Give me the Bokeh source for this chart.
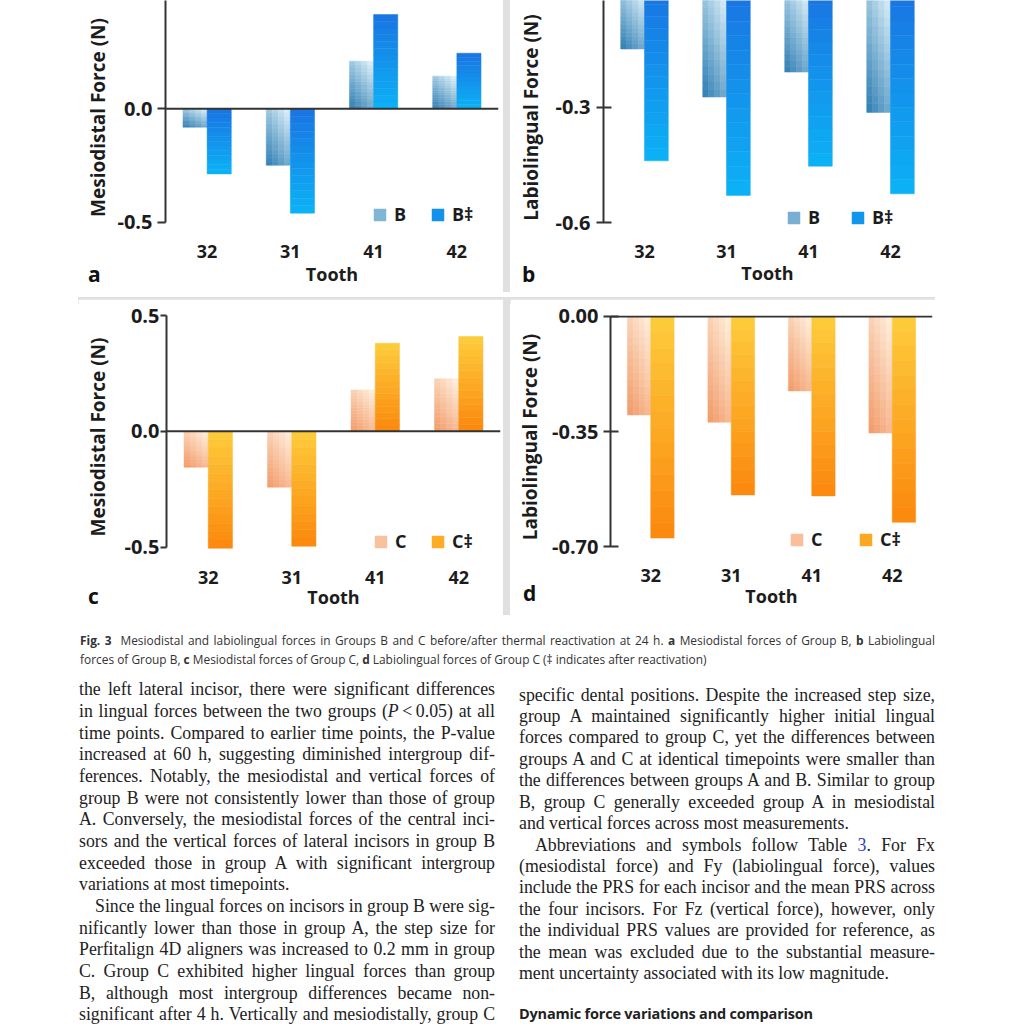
from bokeh.plotting import figure
from bokeh.models import (FactorRange, Range1d, FixedTicker, NumeralTickFormatter, Span,
                          Legend, LegendItem, Div, Spacer, ColumnDataSource)
from bokeh.layouts import row, column
from bokeh.transform import dodge
from bokeh.embed import file_html
from bokeh.resources import INLINE

# ---------------- data ----------------
teeth = ["32", "31", "41", "42"]
mesiodistal_B = [-0.081, -0.249, 0.210, 0.144]
mesiodistal_B_after = [-0.287, -0.460, 0.416, 0.245]
labiolingual_B = [-0.148, -0.273, -0.208, -0.313]
labiolingual_B_after = [-0.439, -0.529, -0.453, -0.525]
mesiodistal_C = [-0.155, -0.241, 0.179, 0.227]
mesiodistal_C_after = [-0.505, -0.496, 0.380, 0.409]
labiolingual_C = [-0.299, -0.321, -0.226, -0.354]
labiolingual_C_after = [-0.673, -0.542, -0.545, -0.625]

ticks_md = [-0.5, 0.0, 0.5]
ticks_ll_B = [-0.6, -0.3, 0.0]
ticks_ll_C = [-0.70, -0.35, 0.0]
panel_letters = ["a", "b", "c", "d"]

caption_lines = [
    '<b>Fig. 3</b>&nbsp; Mesiodistal and labiolingual forces in Groups B and C before/after thermal reactivation at 24 h. '
    '<b>a</b> Mesiodistal forces of Group B, <b>b</b> Labiolingual',
    'forces of Group B, <b>c</b> Mesiodistal forces of Group C, <b>d</b> Labiolingual forces of Group C (\u2021 indicates after reactivation)',
]
left_lines = [
    ("the left lateral incisor, there were significant differences", 1, 0),
    ("in lingual forces between the two groups (<i>P</i>&thinsp;&lt;&thinsp;0.05) at all", 1, 0),
    ("time points. Compared to earlier time points, the P-value", 1, 0),
    ("increased at 60 h, suggesting diminished intergroup dif-", 1, 0),
    ("ferences. Notably, the mesiodistal and vertical forces of", 1, 0),
    ("group B were not consistently lower than those of group", 1, 0),
    ("A. Conversely, the mesiodistal forces of the central inci-", 1, 0),
    ("sors and the vertical forces of lateral incisors in group B", 1, 0),
    ("exceeded those in group A with significant intergroup", 1, 0),
    ("variations at most timepoints.", 0, 0),
    ("Since the lingual forces on incisors in group B were sig-", 1, 16),
    ("nificantly lower than those in group A, the step size for", 1, 0),
    ("Perfitalign 4D aligners was increased to 0.2 mm in group", 1, 0),
    ("C. Group C exhibited higher lingual forces than group", 1, 0),
    ("B, although most intergroup differences became non-", 1, 0),
    ("significant after 4 h. Vertically and mesiodistally, group C", 1, 0),
]
right_lines = [
    ("specific dental positions. Despite the increased step size,", 1, 0),
    ("group A maintained significantly higher initial lingual", 1, 0),
    ("forces compared to group C, yet the differences between", 1, 0),
    ("groups A and C at identical timepoints were smaller than", 1, 0),
    ("the differences between groups A and B. Similar to group", 1, 0),
    ("B, group C generally exceeded group A in mesiodistal", 1, 0),
    ("and vertical forces across most measurements.", 0, 0),
    ('Abbreviations and symbols follow Table <span style="color:#2a3fc9">3</span>. For Fx', 1, 16),
    ("(mesiodistal force) and Fy (labiolingual force), values", 1, 0),
    ("include the PRS for each incisor and the mean PRS across", 1, 0),
    ("the four incisors. For Fz (vertical force), however, only", 1, 0),
    ("the individual PRS values are provided for reference, as", 1, 0),
    ("the mean was excluded due to the substantial measure-", 1, 0),
    ("ment uncertainty associated with its low magnitude.", 0, 0),
]
heading = "Dynamic force variations and comparison"

FONT = "Open Sans"
INK = "#1c1c1c"


def hex2rgb(h):
    h = h.lstrip("#")
    return tuple(int(h[i:i + 2], 16) for i in (0, 2, 4))


def lerp(c0, c1, t):
    a, b = hex2rgb(c0), hex2rgb(c1)
    t = max(0.0, min(1.0, t))
    return "#%02x%02x%02x" % tuple(int(round(a[i] + (b[i] - a[i]) * t)) for i in range(3))


def gradient_bars(p, values, off0, width, c_top, c_bot, n_rows=14, n_cols=1, diag=0.0):
    rends = []
    cw = width / n_cols
    for j in range(n_cols):
        tx = (j + 0.5) / n_cols
        xs, bots, tops, cols = [], [], [], []
        for tooth, v in zip(teeth, values):
            for k in range(n_rows):
                b = v * k / n_rows
                tp = v * (k + 1) / n_rows
                ty = 1 - (k + 0.5) / n_rows if v > 0 else (k + 0.5) / n_rows
                t = (1 - diag) * ty + diag * (1 - tx)
                xs.append(tooth)
                bots.append(b)
                tops.append(tp)
                cols.append(lerp(c_top, c_bot, t))
        src = ColumnDataSource(dict(tooth=xs, bottom=bots, top=tops, color=cols))
        r = p.vbar(x=dodge("tooth", off0 + cw * (j + 0.5), range=p.x_range), width=cw,
                   bottom="bottom", top="top", source=src,
                   fill_color="color", line_color="color", line_width=0.5)
        rends.append(r)
    return rends


def make_panel(fw, fh, bl, br, bt, bb, y0, y1, ticks, fmt, ylabel, tick_in, tick_out,
               tick_sd, ylab_sd, x_sd, xlab_sd, bounds):
    p = figure(width=fw, height=fh, x_range=FactorRange(factors=teeth),
               y_range=Range1d(y0, y1), output_backend="svg", toolbar_location=None,
               min_border_left=bl, min_border_right=br, min_border_top=bt, min_border_bottom=bb)
    p.outline_line_color = None
    p.xgrid.grid_line_color = None
    p.ygrid.grid_line_color = None
    xa = p.xaxis[0]
    xa.axis_line_color = None
    xa.major_tick_line_color = None
    xa.minor_tick_line_color = None
    xa.major_label_standoff = x_sd
    xa.major_label_text_font = FONT
    xa.major_label_text_font_style = "bold"
    xa.major_label_text_font_size = "18px"
    xa.major_label_text_color = INK
    xa.axis_label = "Tooth"
    xa.axis_label_standoff = xlab_sd
    xa.axis_label_text_font = FONT
    xa.axis_label_text_font_style = "bold"
    xa.axis_label_text_font_size = "18px"
    xa.axis_label_text_color = INK
    ya = p.yaxis[0]
    ya.ticker = FixedTicker(ticks=ticks)
    ya.formatter = NumeralTickFormatter(format=fmt)
    ya.bounds = bounds
    ya.axis_line_color = "#333333"
    ya.axis_line_width = 2
    ya.major_tick_line_color = "#333333"
    ya.major_tick_line_width = 2
    ya.major_tick_in = tick_in
    ya.major_tick_out = tick_out
    ya.minor_tick_line_color = None
    ya.major_label_standoff = tick_sd
    ya.major_label_text_font = FONT
    ya.major_label_text_font_style = "bold"
    ya.major_label_text_font_size = "20px"
    ya.major_label_text_color = INK
    ya.axis_label = ylabel
    ya.axis_label_standoff = ylab_sd
    ya.axis_label_text_font = FONT
    ya.axis_label_text_font_style = "bold"
    ya.axis_label_text_font_size = "19px"
    ya.axis_label_text_color = INK
    return p


def finish(p, before, after, names, colors, legend_xy, spacing, zero_line):
    bw = 0.29
    r1 = gradient_bars(p, before, -bw, bw, colors[0], colors[1], n_cols=4, diag=0.4)
    r2 = gradient_bars(p, after, 0.0, bw, colors[2], colors[3], n_cols=1)
    if zero_line:
        p.add_layout(Span(location=0, dimension="width", line_color="#333333", line_width=2))
    leg = Legend(items=[LegendItem(label=names[0], renderers=[r1[1]], index=2 * 14 + 7),
                        LegendItem(label=names[1], renderers=[r2[0]], index=2 * 14 + 7)],
                 location=legend_xy, orientation="horizontal", glyph_width=15, glyph_height=15,
                 label_standoff=7, spacing=spacing, padding=0, margin=0,
                 border_line_color=None, background_fill_alpha=0,
                 label_text_font=FONT, label_text_font_style="bold", label_text_font_size="18px",
                 label_text_color=INK, label_width=20, label_height=15)
    p.add_layout(leg)


blue = ("#e3f5fc", "#2a7bb2", "#1a74e2", "#0cb2f6")
orange = ("#fff2e2", "#f29864", "#fdcc3c", "#fb880c")

# panel a  (frame: window x 165-498, y 0-234; 226.8 px per N)
ya_end = 108.3 / 226.8
pa = make_panel(425, 292, 87, 5, 0, 58, ya_end - 234 / 226.8, ya_end, ticks_md, "0.0",
                "Mesiodistal Force (N)", 0, 8, 5, 3, 4, 1, (-0.5, 1.0))
finish(pa, mesiodistal_B, mesiodistal_B_after, ("B", "B\u2021"), blue, (207, 8), 16, True)

# panel b  (frame: window x 603-931, y 0-237; 389 px per N)
yb_end = -0.3 + 108.3 / 389.0
pb = make_panel(425, 292, 93, 4, 0, 55, yb_end - 237 / 389.0, yb_end, ticks_ll_B, "0.0",
                "Labiolingual Force (N)", 8, 7, 6, 8, 4, 0, (-0.6, 1.0))
finish(pb, labiolingual_B, labiolingual_B_after, ("B", "B\u2021"), blue, (183, 5), 22, False)

# panel c  (frame: window x 166-500, y 315-558; 231.7 px per N)
pc = make_panel(425, 316, 88, 3, 16, 57, 0.5 - 243 / 231.7, 0.5, ticks_md, "0.0",
                "Mesiodistal Force (N)", 0, 6, 1, 10, 6, -2, (-0.5, 0.5))
finish(pc, mesiodistal_C, mesiodistal_C_after, ("C", "C\u2021"), orange, (207, 5), 15, True)

# panel d  (frame: window x 610-932, y 315-560; 332 px per N)
pd_ = make_panel(425, 316, 100, 3, 16, 55, 0.003 - 245 / 332.0, 0.003, ticks_ll_C, "0.00",
                 "Labiolingual Force (N)", 8, 7, 5, 6, 4, -1, (-0.7, 0.0))
finish(pd_, labiolingual_C, labiolingual_C_after, ("C", "C\u2021"), orange, (179, 7), 27, True)

GRAY = "#e0e0e0"
LETTER = ("position:absolute;font-family:'Open Sans';font-weight:700;font-size:21px;"
          "line-height:21px;color:#111;")

hband_html = ('<div style="position:relative;width:857px;height:7px;background:%s;">'
              '<div style="%sleft:10px;top:-33px;">%s</div>'
              '<div style="%sleft:444px;top:-32.6px;">%s</div></div>'
              % (GRAY, LETTER, panel_letters[0], LETTER, panel_letters[1]))

top_row = row(Spacer(width=78, height=292), pa,
              Spacer(width=7, height=292, styles={"background-color": GRAY}), pb, spacing=0)
hband = row(Spacer(width=78, height=7),
            Div(text=hband_html, width=857, height=7, margin=0,
                styles={"overflow": "visible"}), spacing=0)
bot_row = row(Spacer(width=78, height=316), pc,
              Spacer(width=7, height=316, styles={"background-color": GRAY}), pd_, spacing=0)


def line_html(text, left, top, width, justify, indent, font, size, lh, color, extra=""):
    ta = "justify" if justify else "left"
    return ('<div style="position:absolute;left:%dpx;top:%.1fpx;width:%dpx;height:%.1fpx;'
            'line-height:%.1fpx;font-family:%s;font-size:%.1fpx;white-space:nowrap;'
            'text-align:%s;text-align-last:%s;text-indent:%dpx;color:%s;%s">%s</div>'
            % (left, top, width, lh, lh, font, size, ta, ta, indent, color, extra, text))


# text block: top = window y 615, left = window x 0
parts = ['<div style="position:relative;width:1000px;height:409px;">',
         '<div style="%sleft:88px;top:-28.6px;">%s</div>' % (LETTER, panel_letters[2]),
         '<div style="%sleft:523px;top:-31.6px;">%s</div>' % (LETTER, panel_letters[3]),
         '<div style="position:absolute;left:0;top:0;width:1000px;height:409px;overflow:hidden;">']
cap_font = "'Open Sans'"
parts.append(line_html(caption_lines[0], 80, 15.5, 855, True, 0, cap_font, 11.9, 18.5, "#333"))
parts.append(line_html(caption_lines[1], 80, 34.5, 855, False, 0, cap_font, 11.9, 18.5, "#333"))
serif = "'Liberation Serif'"
for k, (t, j, ind) in enumerate(left_lines):
    parts.append(line_html(t, 79, 64.2 + 21.67 * k, 416, bool(j), ind, serif, 17.8, 21.6, "#222"))
for k, (t, j, ind) in enumerate(right_lines):
    parts.append(line_html(t, 519, 69.5 + 21.43 * k, 416, bool(j), ind, serif, 17.8, 21.6, "#222"))
parts.append(line_html(heading, 519, 389, 416, False, 0, cap_font, 14.5, 20, "#222",
                       "font-weight:700;letter-spacing:-0.2px;"))
parts.append("</div></div>")
text_div = Div(text="".join(parts), width=1000, height=409, margin=0,
               styles={"overflow": "visible"})

layout = column(top_row, hband, bot_row, text_div, spacing=0)

open("out.html", "w").write(file_html(layout, INLINE))
